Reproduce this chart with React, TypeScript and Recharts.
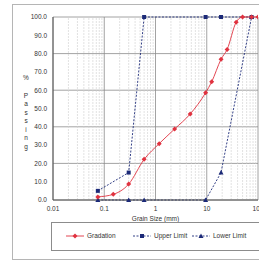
import { CartesianGrid, Line, LineChart, ReferenceLine, XAxis, YAxis } from "recharts"

// sieve sizes (mm) and % passing
const sieveSizes = [0.075, 0.15, 0.3, 0.6, 1.18, 2.36, 4.75, 9.5, 12.5, 19, 25, 37.5, 50, 75, 100]
const gradationPassing = [1.7, 3.1, 8.7, 22.2, 30.8, 38.8, 47.0, 58.6, 64.6, 76.9, 82.3, 97.1, 100, 100, 100]

const limitSizes = [0.075, 0.3, 0.6, 9.5, 19, 75]
const upperPassing = [5, 15, 100, 100, 100, 100]
const lowerPassing = [0, 0, 0, 0, 15, 100]

const xTicks = [0.01, 0.1, 1, 10, 100]
const yTicks = [0, 10, 20, 30, 40, 50, 60, 70, 80, 90, 100]
const yLabelChars = ["%", "P", "a", "s", "s", "i", "n", "g"]

const gradationData = sieveSizes.map((x, i) => ({ x, y: gradationPassing[i] }))
const upperData = limitSizes.map((x, i) => ({ x, y: upperPassing[i] }))
const lowerData = limitSizes.map((x, i) => ({ x, y: lowerPassing[i] }))

// minor log grid lines 2..9 in every decade
const minorLines: number[] = []
for (const d of [0.01, 0.1, 1, 10]) {
  for (let k = 2; k <= 9; k++) minorLines.push(d * k)
}

const RED = "#e0323f"
const NAVY = "#1c2a78"
const FONT = "'Liberation Sans', Arial, sans-serif"

const Diamond = (p: any) => {
  const { cx, cy } = p
  if (cx == null || cy == null) return <g />
  return <path d={`M${cx},${cy - 2.5}L${cx + 2.5},${cy}L${cx},${cy + 2.5}L${cx - 2.5},${cy}Z`} fill={RED} />
}
const Square = (p: any) => {
  const { cx, cy } = p
  if (cx == null || cy == null) return <g />
  return <rect x={cx - 2} y={cy - 2} width={4} height={4} fill={NAVY} />
}
const Triangle = (p: any) => {
  const { cx, cy } = p
  if (cx == null || cy == null) return <g />
  return <path d={`M${cx},${cy - 2.5}L${cx + 2.5},${cy + 2}L${cx - 2.5},${cy + 2}Z`} fill={NAVY} />
}

const legendItems = [
  { name: "Gradation", color: RED, dash: undefined, Mark: Diamond, x: 66 },
  { name: "Upper Limit", color: NAVY, dash: "2 1.5", Mark: Square, x: 133 },
  { name: "Lower Limit", color: NAVY, dash: "2 1.5", Mark: Triangle, x: 192 },
]

export default function App() {
  return (
    <div style={{ position: "absolute", left: 0, top: 0, width: 259, height: 261, overflow: "hidden", background: "#fff" }}>
      <div style={{ position: "absolute", left: 12, top: 4, width: 300, height: 254, border: "1px solid #b5b5b5" }} />
      <div style={{ position: "absolute", left: 0, top: 0 }}>
        <LineChart width={300} height={261} margin={{ top: 17, right: 42, left: 13, bottom: 41 }}>
          <CartesianGrid vertical={false} stroke="#8c8c8c" strokeWidth={0.8} />
          {minorLines.map((v) => (
            <ReferenceLine key={v} x={v} stroke="#cfcfcf" strokeWidth={0.6} strokeDasharray="2 1" />
          ))}
          {xTicks.map((v) => (
            <ReferenceLine key={"d" + v} x={v} stroke="#8c8c8c" strokeWidth={0.8} />
          ))}
          <XAxis
            type="number"
            dataKey="x"
            scale="log"
            domain={[0.01, 100]}
            ticks={xTicks}
            allowDataOverflow
            tickFormatter={(v) => String(v)}
            tickLine={false}
            tickSize={2}
            tickMargin={4}
            height={20}
            stroke="#555"
            tick={{ fontSize: 6.5, fill: "#333", fontFamily: FONT }}
            label={{ value: "Grain Size (mm)", position: "insideBottom", offset: -1, fontSize: 6.5, fill: "#333", fontFamily: FONT }}
          />
          <YAxis
            type="number"
            domain={[0, 100]}
            ticks={yTicks}
            tickFormatter={(v) => v.toFixed(1)}
            tickLine={false}
            tickSize={2}
            tickMargin={4}
            width={40}
            stroke="#555"
            tick={{ fontSize: 6.5, fill: "#333", fontFamily: FONT }}
            label={{
              content: () => (
                <g>
                  {yLabelChars.map((c, i) => (
                    <text
                      key={i}
                      x={26}
                      y={i === 0 ? 80 : 89 + i * 8.5}
                      textAnchor="middle"
                      fontSize={6.5}
                      fill="#333"
                      fontFamily={FONT}
                    >
                      {c}
                    </text>
                  ))}
                </g>
              ),
            }}
          />
          <Line data={upperData} dataKey="y" type="linear" stroke={NAVY} strokeWidth={0.9} strokeDasharray="2 1.5" dot={Square} isAnimationActive={false} />
          <Line data={lowerData} dataKey="y" type="linear" stroke={NAVY} strokeWidth={0.9} strokeDasharray="2 1.5" dot={Triangle} isAnimationActive={false} />
          <Line data={gradationData} dataKey="y" type="monotone" stroke={RED} strokeWidth={0.9} dot={Diamond} isAnimationActive={false} />
        </LineChart>
      </div>
      <div style={{ position: "absolute", left: 51, top: 222, width: 260, height: 27, border: "1px solid #8c8c8c" }} />
      <svg style={{ position: "absolute", left: 0, top: 0 }} width={259} height={261}>
        {legendItems.map((it) => (
          <g key={it.name}>
            <line x1={it.x} x2={it.x + 18} y1={236} y2={236} stroke={it.color} strokeWidth={0.9} strokeDasharray={it.dash} />
            <it.Mark cx={it.x + 9} cy={236} />
            <text x={it.x + 21} y={238.3} fontSize={6.5} fill="#333" fontFamily={FONT}>
              {it.name}
            </text>
          </g>
        ))}
      </svg>
    </div>
  )
}
